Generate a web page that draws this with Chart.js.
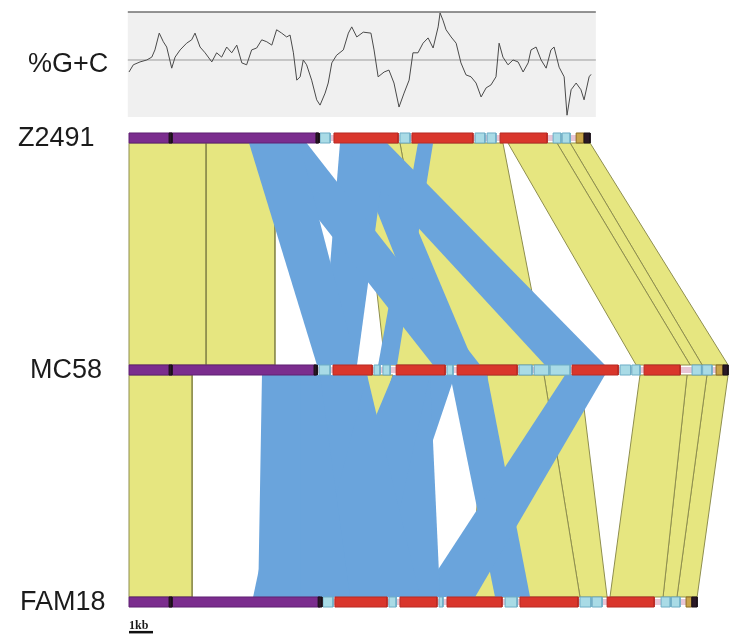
<!DOCTYPE html>
<html>
<head>
<meta charset="utf-8">
<script src="https://cdn.jsdelivr.net/npm/chart.js@4.4.0/dist/chart.umd.min.js"></script>
<style>
  html, body { margin: 0; padding: 0; background: #ffffff; }
  #wrap { width: 742px; height: 644px; }
</style>
</head>
<body>
<div id="wrap"><canvas id="chart1" width="742" height="644"></canvas></div>
<script>
// genomes, top to bottom (positions in kb)
const genomes = ["Z2491", "MC58", "FAM18"];
const genomeLen = [19.21, 24.96, 23.67];

// %G+C along Z2491
const gcPos = [0, 0.18, 0.46, 0.74, 0.95, 1.08, 1.26, 1.43, 1.57, 1.78, 1.92, 2.13, 2.4, 2.61, 2.75, 2.96,
  3.17, 3.45, 3.65, 3.86, 4.07, 4.28, 4.49, 4.7, 4.9, 5.11, 5.32, 5.53, 5.74, 5.95, 6.15, 6.36, 6.57,
  6.71, 6.85, 6.99, 7.13, 7.26, 7.4, 7.61, 7.82, 7.96, 8.17, 8.3, 8.45, 8.65, 8.93, 9.14, 9.28, 9.49,
  9.76, 10.08, 10.21, 10.38, 10.63, 10.83, 11.04, 11.25, 11.46, 11.67, 11.83, 12.04, 12.25, 12.46,
  12.67, 12.88, 12.96, 13.08, 13.21, 13.42, 13.63, 13.83, 14.04, 14.25, 14.46, 14.67, 14.88, 15.08,
  15.29, 15.42, 15.58, 15.79, 16.0, 16.21, 16.42, 16.63, 16.75, 16.96, 17.17, 17.38, 17.58, 17.71,
  17.92, 18.13, 18.25, 18.42, 18.63, 18.83, 18.96, 19.17, 19.25];
const gcVal = [47.5, 49.0, 49.6, 50.0, 50.6, 52.1, 55.6, 53.8, 52.7, 48.3, 50.6, 52.1, 53.5, 54.2, 55.6, 52.7,
  51.5, 49.6, 51.5, 50.6, 52.7, 51.5, 53.1, 49.4, 49.0, 52.1, 52.5, 54.2, 53.8, 53.1, 56.3, 55.6, 54.8,
  55.2, 51.5, 45.8, 46.5, 50.0, 49.0, 45.8, 41.7, 40.6, 43.1, 45.2, 49.4, 51.0, 52.1, 55.6, 56.9, 54.8,
  55.8, 55.6, 52.1, 46.5, 47.5, 47.9, 45.2, 40.2, 43.1, 45.8, 51.5, 51.5, 53.5, 54.6,
  52.5, 56.9, 59.8, 58.3, 56.3, 54.8, 53.5, 49.4, 46.9, 46.5, 45.2, 42.3, 44.2, 44.8,
  46.5, 53.5, 50.6, 49.0, 50.0, 49.6, 47.5, 49.4, 52.1, 52.7, 50.0, 48.3, 52.1, 52.7,
  48.5, 46.5, 38.5, 43.8, 45.2, 43.8, 41.7, 46.5, 47.0];

// gene / element blocks: [start kb, end kb, kind]
const segZ2491 = [[0, 7.88, "p"], [1.67, 1.79, "k"], [7.79, 7.92, "k"], [7.96, 8.38, "b"], [8.54, 11.21, "r"],
  [11.29, 11.71, "b"], [11.79, 14.33, "r"], [14.42, 14.83, "b"], [14.92, 15.29, "b"], [15.46, 17.42, "r"],
  [17.67, 18.0, "b"], [18.05, 18.38, "b"], [18.63, 18.96, "g"], [18.96, 19.21, "k"]];
const segMC58 = [[0, 7.79, "p"], [1.67, 1.79, "k"], [7.71, 7.84, "k"], [7.92, 8.38, "b"], [8.5, 10.13, "r"],
  [10.21, 10.46, "b"], [10.58, 10.88, "b"], [11.13, 13.17, "r"], [13.25, 13.5, "b"], [13.67, 16.17, "r"],
  [16.25, 16.79, "b"], [16.88, 17.5, "b"], [17.55, 18.38, "b"], [18.46, 20.38, "r"], [20.46, 20.9, "b"],
  [20.95, 21.29, "b"], [21.46, 22.96, "r"], [23.46, 23.85, "b"], [23.9, 24.29, "b"], [24.46, 24.75, "g"],
  [24.75, 24.96, "k"]];
const segFAM18 = [[0, 7.96, "p"], [1.67, 1.79, "k"], [7.88, 8.04, "k"], [8.08, 8.5, "b"], [8.58, 10.75, "r"],
  [10.83, 11.13, "b"], [11.29, 12.83, "r"], [12.92, 13.08, "b"], [13.25, 15.54, "r"], [15.67, 16.17, "b"],
  [16.29, 18.71, "r"], [18.79, 19.25, "b"], [19.3, 19.71, "b"], [19.92, 21.88, "r"], [22.17, 22.55, "b"],
  [22.6, 22.96, "b"], [23.21, 23.45, "g"], [23.45, 23.67, "k"]];

// matches: [upper start, upper end, lower start, lower end] in kb
const sameZ2491MC58 = [[0, 3.21, 0, 3.21], [3.21, 6.08, 3.21, 6.08], [9.63, 11.29, 10.67, 12.96],
  [11.29, 15.58, 12.96, 17.38], [15.79, 17.83, 21.13, 23.38], [17.83, 18.38, 23.38, 23.88],
  [18.38, 19.21, 23.88, 24.96]];
const invZ2491MC58 = [[5.0, 7.1, 7.83, 9.5], [5.4, 7.4, 12.67, 14.63], [8.79, 10.75, 17.33, 19.83],
  [8.79, 10.75, 8.04, 9.5], [9.2, 10.5, 12.9, 14.4], [12.04, 12.67, 10.38, 11.17]];
const sameMC58FAM18 = [[0, 2.63, 0, 2.63], [8.5, 11.0, 6.79, 8.46], [14.92, 17.29, 14.21, 18.79],
  [17.29, 18.79, 18.79, 19.92], [21.29, 23.25, 20.04, 22.25], [23.25, 24.08, 22.25, 22.83],
  [24.08, 24.96, 22.83, 23.67]];
const invMC58FAM18 = [[5.54, 7.13, 5.38, 7.13], [5.54, 7.96, 7.13, 9.21], [7.13, 9.92, 5.17, 7.54],
  [7.96, 9.92, 9.21, 12.13], [7.13, 9.92, 8.38, 11.29], [11.0, 12.54, 7.13, 10.46],
  [11.0, 12.54, 10.46, 12.96], [12.33, 13.58, 8.38, 10.46], [18.17, 19.83, 12.13, 14.42],
  [13.38, 14.92, 15.25, 16.71]];

const segColors = { p: "#7b2d8e", r: "#d9362c", b: "#a9dbe6", g: "#c9a449", k: "#2a1826" };
const segBorders = { p: "#5f2072", r: "#b82b24", b: "#6eaec6", g: "#8c6c22", k: "#1a1018" };
const sameColor = "#e6e680";
const invColor = "#6aa4dc";
const barH = 0.0216;

function poly(pts) {
  return pts.concat([pts[0]]).map(([x, y]) => ({ x, y }));
}

const datasets = [];

// %G+C panel
datasets.push({
  data: poly([[-0.05, 60], [19.45, 60], [19.45, 38.1], [-0.05, 38.1]]),
  yAxisID: "yGC", fill: "shape", backgroundColor: "#f0f0f0", borderWidth: 0, order: 9
});
datasets.push({
  data: [{ x: -0.05, y: 60 }, { x: 19.45, y: 60 }], yAxisID: "yGC",
  borderColor: "#707070", borderWidth: 1.5, fill: false, order: 8
});
datasets.push({
  data: [{ x: -0.05, y: 50 }, { x: 19.45, y: 50 }], yAxisID: "yGC",
  borderColor: "#9a9a9a", borderWidth: 1, fill: false, order: 8
});
datasets.push({
  data: gcPos.map((x, i) => ({ x, y: gcVal[i] })), yAxisID: "yGC",
  borderColor: "#4a4a4a", borderWidth: 1, fill: false, order: 7
});

function addLinks(list, row, color, border, order) {
  const top = row + barH, bot = row + 1 - barH;
  list.forEach(([a0, a1, b0, b1]) => {
    datasets.push({
      data: poly([[a0, top], [a1, top], [b1, bot], [b0, bot]]),
      fill: "shape", backgroundColor: color, borderColor: border, borderWidth: border ? 1 : 0, order
    });
  });
}
addLinks(sameZ2491MC58, 0, sameColor, "#8e8e4e", 5);
addLinks(sameMC58FAM18, 1, sameColor, "#8e8e4e", 5);
addLinks(invZ2491MC58, 0, invColor, null, 4);
addLinks(invMC58FAM18, 1, invColor, null, 4);

[segZ2491, segMC58, segFAM18].forEach((segs, row) => {
  datasets.push({
    data: [{ x: 0, y: row }, { x: genomeLen[row], y: row }],
    borderColor: "#e8c6d6", borderWidth: 6, fill: false, order: 3
  });
  segs.forEach(([s, e, kind]) => {
    datasets.push({
      data: poly([[s, row - barH], [e, row - barH], [e, row + barH], [s, row + barH]]),
      fill: "shape", backgroundColor: segColors[kind], borderColor: segBorders[kind],
      borderWidth: 1, order: kind === "k" ? 1 : 2
    });
  });
});

// 1 kb scale bar
datasets.push({
  data: [{ x: 0, y: 2.13 }, { x: 1, y: 2.13 }],
  borderColor: "#111111", borderWidth: 2.5, fill: false, order: 0
});

const labelPlugin = {
  id: "labels",
  afterDraw(chart) {
    const { ctx, scales } = chart;
    const labelX = [18, 30, 20];
    ctx.save();
    ctx.fillStyle = "#1b1b1b";
    ctx.textBaseline = "middle";
    ctx.font = '27px "Liberation Sans", Arial, sans-serif';
    genomes.forEach((g, i) => ctx.fillText(g, labelX[i], scales.y.getPixelForValue(i) + 1));
    ctx.fillText("%G+C", 28, scales.yGC.getPixelForValue(49.1));
    ctx.font = 'bold 12px "Liberation Serif", serif';
    ctx.textBaseline = "alphabetic";
    ctx.fillText("1kb", scales.x.getPixelForValue(0), scales.y.getPixelForValue(2.13) - 3);
    ctx.restore();
  }
};

const ctx = document.getElementById("chart1");

const chart = new Chart(ctx, {
  type: "line",
  data: { datasets },
  options: {
    responsive: false,
    animation: false,
    events: [],
    layout: { padding: 0 },
    elements: { point: { radius: 0 }, line: { tension: 0 } },
    scales: {
      x: { type: "linear", min: -5.375, max: 25.54, display: false },
      y: { type: "linear", min: -0.5948, max: 2.181, reverse: true, display: false },
      yGC: { type: "linear", min: -71.667, max: 62.5, display: false }
    },
    plugins: { legend: { display: false }, tooltip: { enabled: false } }
  },
  plugins: [labelPlugin]
});
</script>
</body>
</html>
